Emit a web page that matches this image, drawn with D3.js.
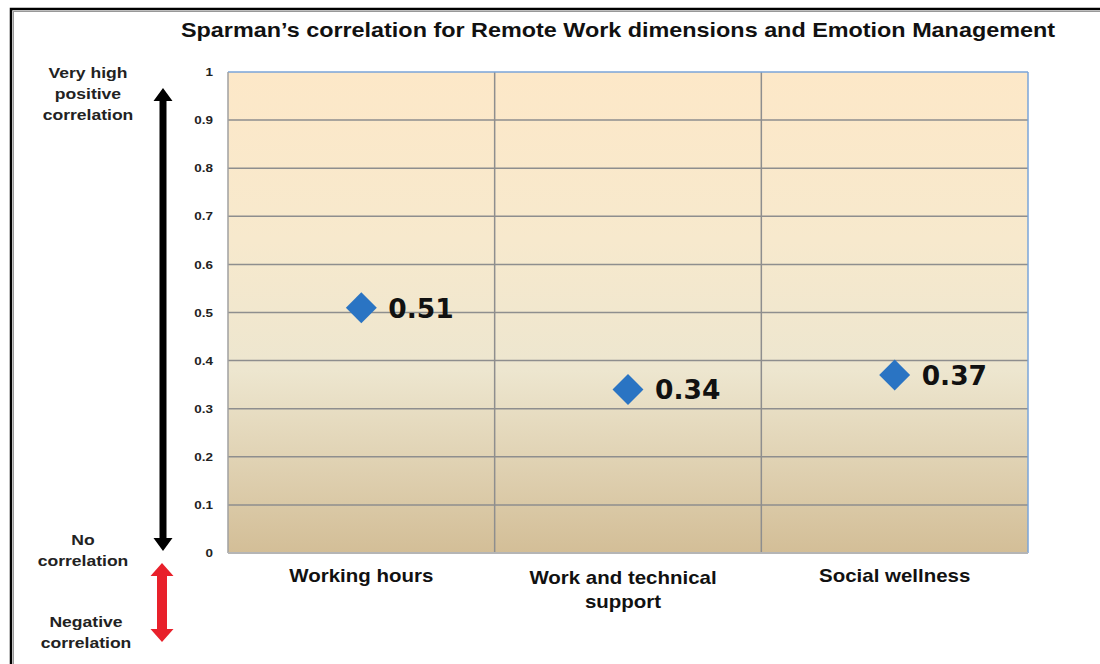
<!DOCTYPE html>
<html>
<head>
<meta charset="utf-8">
<script src="https://cdn.jsdelivr.net/npm/d3@7"></script>
<style>
  body { margin: 0; background: #fff; }
  svg { display: block; font-family: Arial, "Liberation Sans", sans-serif; }
</style>
</head>
<body>
<div id="chart"></div>
<script>
// dados do gráfico
const categories = ["Working hours", "Work and technical support", "Social wellness"];
const catLines = [["Working hours"], ["Work and technical", "support"], ["Social wellness"]];
const values = [0.51, 0.34, 0.37];
const yTicks = [0, 0.1, 0.2, 0.3, 0.4, 0.5, 0.6, 0.7, 0.8, 0.9, 1];

const width = 1100, height = 664;
const margin = { top: 72, right: 72, bottom: 111, left: 228 };
const stretch = 1.17; // o texto original parece esticado na horizontal

const svg = d3.select("#chart").append("svg")
  .attr("width", width)
  .attr("height", height);

// moldura
svg.append("rect")
  .attr("x", 11).attr("y", 9)
  .attr("width", width + 20).attr("height", height + 20)
  .attr("fill", "none").attr("stroke", "#000").attr("stroke-width", 2.5);
svg.append("rect")
  .attr("x", 13.5).attr("y", 11.5)
  .attr("width", width + 20).attr("height", height + 20)
  .attr("fill", "none").attr("stroke", "#999").attr("stroke-width", 1);

const x = d3.scaleBand()
  .domain(categories)
  .range([margin.left, width - margin.right]);

const y = d3.scaleLinear()
  .domain([0, 1])
  .range([height - margin.bottom, margin.top]);

// gradiente de fundo
const defs = svg.append("defs");
const grad = defs.append("linearGradient")
  .attr("id", "bg").attr("x1", 0).attr("y1", 0).attr("x2", 0).attr("y2", 1);
grad.append("stop").attr("offset", "0%").attr("stop-color", "#fde8c8");
grad.append("stop").attr("offset", "35%").attr("stop-color", "#f7e9cd");
grad.append("stop").attr("offset", "62%").attr("stop-color", "#ede6cf");
grad.append("stop").attr("offset", "100%").attr("stop-color", "#d3be97");

const pw = x.range()[1] - x.range()[0];
const ph = y(0) - y(1);

svg.append("rect")
  .attr("x", margin.left).attr("y", y(1))
  .attr("width", pw).attr("height", ph)
  .attr("fill", "url(#bg)");

// linhas de grade horizontais
svg.append("g")
  .selectAll("line")
  .data(yTicks.filter(d => d > 0 && d < 1))
  .join("line")
  .attr("x1", margin.left).attr("x2", margin.left + pw)
  .attr("y1", d => y(d)).attr("y2", d => y(d))
  .attr("stroke", "#8e8e8e").attr("stroke-width", 1.5);

// divisórias verticais
svg.append("g")
  .selectAll("line")
  .data(categories.slice(1))
  .join("line")
  .attr("x1", d => x(d)).attr("x2", d => x(d))
  .attr("y1", y(1)).attr("y2", y(0))
  .attr("stroke", "#8e8e8e").attr("stroke-width", 1.5);

// bordas da área
svg.append("line")
  .attr("x1", margin.left).attr("x2", margin.left + pw)
  .attr("y1", y(1)).attr("y2", y(1))
  .attr("stroke", "#7aa5d8").attr("stroke-width", 1.5);
svg.append("line")
  .attr("x1", margin.left + pw).attr("x2", margin.left + pw)
  .attr("y1", y(1)).attr("y2", y(0))
  .attr("stroke", "#7aa5d8").attr("stroke-width", 1.5);
svg.append("line")
  .attr("x1", margin.left).attr("x2", margin.left)
  .attr("y1", y(1)).attr("y2", y(0))
  .attr("stroke", "#a0a0a0").attr("stroke-width", 1.5);
svg.append("line")
  .attr("x1", margin.left).attr("x2", margin.left + pw)
  .attr("y1", y(0)).attr("y2", y(0))
  .attr("stroke", "#b5b5b5").attr("stroke-width", 2);

// eixo y
const yAxis = d3.axisLeft(y)
  .tickValues(yTicks)
  .tickSize(0)
  .tickPadding(0)
  .tickFormat(d => d3.format("")(Math.round(d * 10) / 10));
const gy = svg.append("g")
  .attr("transform", `translate(${margin.left},0)`)
  .call(yAxis);
gy.select(".domain").remove();
gy.selectAll(".tick text")
  .attr("x", null)
  .attr("transform", `translate(-15,0) scale(${stretch},1)`)
  .attr("font-size", 11.5).attr("font-weight", "bold")
  .attr("font-family", "Arial, 'Liberation Sans', sans-serif")
  .attr("fill", "#222");

// eixo x (rótulos das categorias)
svg.append("g")
  .selectAll("text")
  .data(categories)
  .join("text")
  .attr("text-anchor", "middle")
  .attr("font-size", 17.5).attr("font-weight", "bold")
  .attr("fill", "#111")
  .attr("transform", (d, i) => `translate(${x(d) + x.bandwidth() / 2 + (i === 1 ? -5 : 0)},${y(0) + (i === 1 ? 31 : 29)}) scale(${stretch},1)`)
  .each(function(d, i) {
    d3.select(this).selectAll("tspan")
      .data(catLines[i])
      .join("tspan")
      .attr("x", 0)
      .attr("dy", (t, j) => j === 0 ? 0 : 24)
      .text(t => t);
  });

// marcadores em losango
const diamond = d3.symbol().type(d3.symbolDiamond2).size(610);
svg.append("g")
  .selectAll("path")
  .data(values)
  .join("path")
  .attr("d", diamond)
  .attr("transform", (d, i) => `translate(${x(categories[i]) + x.bandwidth() / 2},${y(d)})`)
  .attr("fill", "#2a74c3");

// rótulos dos valores
svg.append("g")
  .selectAll("text")
  .data(values)
  .join("text")
  .attr("x", (d, i) => x(categories[i]) + x.bandwidth() / 2 + 27)
  .attr("y", d => y(d) + 10)
  .attr("font-size", 26.5).attr("font-weight", "bold")
  .attr("font-family", "'DejaVu Sans', Verdana, sans-serif")
  .attr("fill", "#111")
  .text(d => d.toFixed(2));

// título
svg.append("text")
  .attr("x", 181).attr("y", 37)
  .attr("font-size", 21).attr("font-weight", "bold")
  .attr("fill", "#111")
  .attr("textLength", 874)
  .attr("lengthAdjust", "spacingAndGlyphs")
  .text("Sparman\u2019s correlation for Remote Work dimensions and Emotion Management");

// setas à esquerda
function doubleArrow(cx, y1, y2, color, sw, hw, hl) {
  const pts = [
    [cx, y1], [cx + hw, y1 + hl], [cx + sw, y1 + hl],
    [cx + sw, y2 - hl], [cx + hw, y2 - hl], [cx, y2],
    [cx - hw, y2 - hl], [cx - sw, y2 - hl], [cx - sw, y1 + hl],
    [cx - hw, y1 + hl]
  ];
  svg.append("path")
    .attr("d", d3.line()(pts) + "Z")
    .attr("fill", color);
}
doubleArrow(163, 88, 551, "#000", 3.5, 9.5, 13);
doubleArrow(162, 563, 642, "#e8212b", 5, 11.5, 13);

// textos à esquerda
const sideNotes = [
  { lines: ["Very high", "positive", "correlation"], x: 88, y: 78 },
  { lines: ["No", "correlation"], x: 83, y: 545 },
  { lines: ["Negative", "correlation"], x: 86, y: 627 }
];
svg.append("g")
  .selectAll("text")
  .data(sideNotes)
  .join("text")
  .attr("text-anchor", "middle")
  .attr("font-size", 15).attr("font-weight", "bold")
  .attr("fill", "#222")
  .attr("transform", d => `translate(${d.x},${d.y}) scale(${stretch},1)`)
  .each(function(d) {
    d3.select(this).selectAll("tspan")
      .data(d.lines)
      .join("tspan")
      .attr("x", 0)
      .attr("dy", (t, j) => j === 0 ? 0 : 21)
      .text(t => t);
  });
</script>
</body>
</html>
